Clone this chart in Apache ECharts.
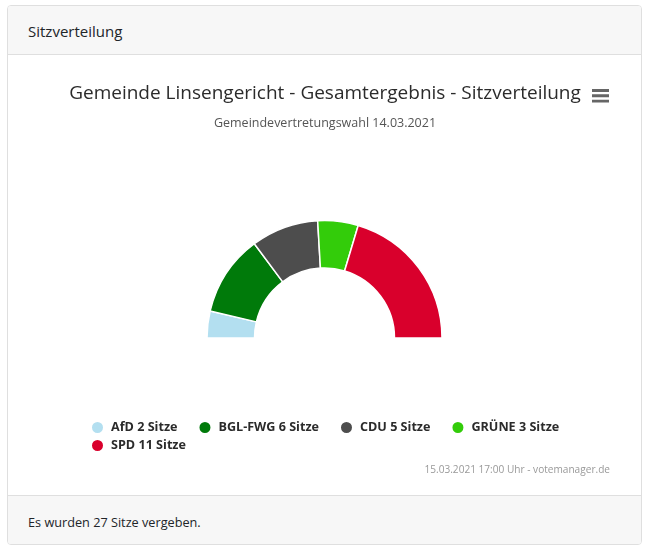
<!DOCTYPE html>
<html>
<head>
<meta charset="utf-8">
<script src="https://cdn.jsdelivr.net/npm/echarts@6/dist/echarts.min.js"></script>
<style>
  html, body { margin: 0; padding: 0; background: #fff; }
  body { width: 647px; height: 549px; position: relative; overflow: hidden; font-family: "Open Sans", sans-serif; color: #212529; }
  .card { position: absolute; left: 7px; top: 5px; width: 633px; height: 538px; border: 1px solid #dfdfdf; border-radius: 4px; overflow: hidden; }
  .head, .foot { position: absolute; left: 0; width: 100%; background: #f7f7f7; font-size: 15px; box-sizing: border-box; padding-left: 20px; }
  .head { top: 0; height: 49px; line-height: 51px; border-bottom: 1px solid #dfdfdf; }
  .foot { bottom: 0; height: 49px; line-height: 53px; border-top: 1px solid #dfdfdf; font-size: 12.7px; }
  #chart { position: absolute; left: 8px; top: 55px; width: 632px; height: 440px; }
</style>
</head>
<body>
<div class="card">
  <div class="head">Sitzverteilung</div>
  <div class="foot">Es wurden 27 Sitze vergeben.</div>
</div>
<div id="chart"></div>
<script>
const parties = ["AfD", "BGL-FWG", "CDU", "GRÜNE", "SPD"];
const seats = [2, 6, 5, 3, 11];
const colors = ["#b3dff0", "#007a0a", "#4d4d4d", "#33cc0a", "#d9002c"];
const legendRow1 = ["AfD", "BGL-FWG", "CDU", "GRÜNE"];
const legendRow2 = ["SPD"];

const fontName = "Open Sans";
const seatsByName = {};
parties.forEach((p, i) => { seatsByName[p] = seats[i]; });

const chart = echarts.init(document.getElementById("chart"), null, { renderer: "canvas" });

// two legends, the row gap is smaller than the item gap
function legendRow(names, top) {
  return {
    left: 77,
    top: top,
    orient: "horizontal",
    icon: "circle",
    itemWidth: 13,
    itemHeight: 13,
    itemGap: 20,
    data: names,
    formatter: name => name + " " + seatsByName[name] + " Sitze",
    textStyle: { fontFamily: fontName, fontSize: 12.6, fontWeight: "bold", color: "#2b2b2b", padding: [0, 0, 0, 2] }
  };
}

chart.setOption({
  animation: false,
  color: colors,
  title: {
    text: "Gemeinde Linsengericht - Gesamtergebnis - Sitzverteilung",
    subtext: "Gemeindevertretungswahl 14.03.2021",
    left: 312,
    top: 24,
    textAlign: "center",
    itemGap: 14,
    textStyle: { fontFamily: fontName, fontSize: 19, fontWeight: "normal", color: "#2b2b2b" },
    subtextStyle: { fontFamily: fontName, fontSize: 12.5, color: "#555555" }
  },
  toolbox: {
    right: 16,
    top: 19,
    itemSize: 17,
    feature: {
      myMenu: {
        show: true,
        title: "Menu",
        icon: "path://M0 0H20V3.4H0ZM0 6.3H20V9.7H0ZM0 12.6H20V16H0Z",
        iconStyle: { color: "#666666", borderWidth: 0 },
        onclick: function () {}
      }
    }
  },
  legend: [legendRow(legendRow1, 360), legendRow(legendRow2, 378)],
  graphic: [{
    type: "text",
    right: 30,
    top: 410,
    style: { text: "15.03.2021 17:00 Uhr - votemanager.de", fontFamily: fontName, fontSize: 10.1, fill: "#999999" }
  }],
  series: [{
    type: "pie",
    center: [316.5, 283],
    radius: [70, 117.5],
    startAngle: 180,
    endAngle: 0,
    clockwise: true,
    label: { show: false },
    labelLine: { show: false },
    itemStyle: { borderColor: "#ffffff", borderWidth: 1.5 },
    data: parties.map((p, i) => ({ name: p, value: seats[i] }))
  }]
});
</script>
</body>
</html>
